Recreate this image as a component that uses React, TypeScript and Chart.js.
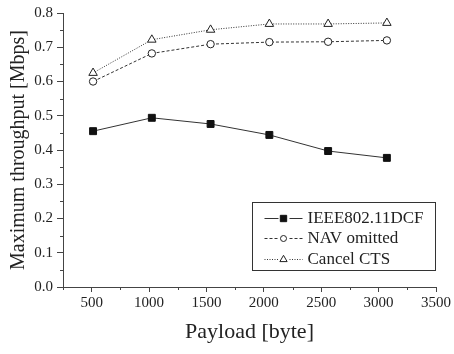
import React, { useEffect, useRef } from 'react';
import { Chart, registerables } from 'chart.js';
Chart.register(...registerables);

const payloads = [512, 1024, 1536, 2048, 2560, 3072];
const dcfValues = [0.455, 0.494, 0.476, 0.444, 0.397, 0.377];
const navValues = [0.600, 0.682, 0.709, 0.715, 0.716, 0.720];
const ctsValues = [0.625, 0.722, 0.751, 0.768, 0.768, 0.771];
const seriesLabels = ['IEEE802.11DCF', 'NAV omitted', 'Cancel CTS'];
const xTickValues = [500, 1000, 1500, 2000, 2500, 3000, 3500];
const xMinorValues = [250, 750, 1250, 1750, 2250, 2750, 3250];
const yTickValues = [0, 0.1, 0.2, 0.3, 0.4, 0.5, 0.6, 0.7, 0.8];
const yMinorValues = [0.05, 0.15, 0.25, 0.35, 0.45, 0.55, 0.65, 0.75];
const xTitle = 'Payload [byte]';
const yTitle = 'Maximum throughput [Mbps]';

const FONT = "'Liberation Serif'";
const AXIS = '#444';
const TEXT = '#222';
const LINE = '#333';

const styles = [
  { dash: [] as number[], point: 'rect', radius: 4.9, fill: '#111', stroke: '#111' },
  { dash: [3, 2], point: 'circle', radius: 3.7, fill: '#fff', stroke: '#222' },
  { dash: [1, 1.5], point: 'triangle', radius: 4.9, fill: '#fff', stroke: '#222' },
];

function drawMarker(ctx: CanvasRenderingContext2D, kind: string, x: number, y: number, r: number, fill: string, stroke: string) {
  ctx.save();
  ctx.setLineDash([]);
  ctx.fillStyle = fill;
  ctx.strokeStyle = stroke;
  ctx.lineWidth = 1;
  ctx.beginPath();
  if (kind === 'rect') {
    const s = r * Math.SQRT1_2;
    ctx.rect(x - s, y - s, 2 * s, 2 * s);
  } else if (kind === 'circle') {
    ctx.arc(x, y, r, 0, Math.PI * 2);
  } else {
    ctx.moveTo(x, y - r);
    ctx.lineTo(x + r * 0.866, y + r * 0.5);
    ctx.lineTo(x - r * 0.866, y + r * 0.5);
    ctx.closePath();
  }
  ctx.fill();
  ctx.stroke();
  ctx.restore();
}

const extrasPlugin = {
  id: 'extras',
  afterDraw(chart: any) {
    const ctx: CanvasRenderingContext2D = chart.ctx;
    const xs = chart.scales.x;
    const ys = chart.scales.y;
    const area = chart.chartArea;
    ctx.save();
    ctx.strokeStyle = AXIS;
    ctx.lineWidth = 1;
    ctx.beginPath();
    xMinorValues.forEach((v) => {
      const px = Math.round(xs.getPixelForValue(v)) + 0.5;
      ctx.moveTo(px, area.bottom);
      ctx.lineTo(px, area.bottom + 3);
    });
    yMinorValues.forEach((v) => {
      const py = Math.round(ys.getPixelForValue(v)) + 0.5;
      ctx.moveTo(area.left, py);
      ctx.lineTo(area.left - 3, py);
    });
    ctx.stroke();

    // legend
    const bx = area.right - 183.5;
    const by = area.bottom - 84.5;
    const bw = 183;
    const bh = 68;
    ctx.strokeStyle = '#333';
    ctx.strokeRect(bx, by, bw, bh);
    ctx.font = '17px ' + FONT;
    ctx.fillStyle = TEXT;
    ctx.textBaseline = 'middle';
    chart.data.datasets.forEach((ds: any, i: number) => {
      const st = styles[i];
      const cy = by + 15 + i * 20.5;
      const cx = bx + 31;
      ctx.save();
      ctx.strokeStyle = LINE;
      ctx.setLineDash(st.dash);
      ctx.beginPath();
      ctx.moveTo(bx + 12, Math.round(cy) + 0.5);
      ctx.lineTo(cx - 5, Math.round(cy) + 0.5);
      ctx.moveTo(cx + 6, Math.round(cy) + 0.5);
      ctx.lineTo(bx + 50, Math.round(cy) + 0.5);
      ctx.stroke();
      ctx.restore();
      drawMarker(ctx, st.point, cx, Math.round(cy) + 0.5, st.point === 'rect' ? 4.5 : st.radius - 0.7, st.fill, st.stroke);
      ctx.fillText(ds.label, bx + 55, cy + 1);
    });
    ctx.restore();
  },
};

export default function App() {
  const ref = useRef<HTMLCanvasElement>(null);
  useEffect(() => {
    if (!ref.current) return;
    let chart: Chart | null = null;
    let cancelled = false;
    const build = () => {
      if (cancelled || !ref.current) return;
      const series = [dcfValues, navValues, ctsValues];
      chart = new Chart(ref.current, {
        type: 'line',
        data: {
          datasets: series.map((vals, i) => ({
            label: seriesLabels[i],
            data: payloads.map((p, j) => ({ x: p, y: vals[j] })),
            borderColor: LINE,
            borderWidth: 1,
            borderDash: styles[i].dash,
            pointStyle: styles[i].point as any,
            pointRadius: styles[i].radius,
            pointBackgroundColor: styles[i].fill,
            pointBorderColor: styles[i].stroke,
            pointBorderWidth: 1,
            tension: 0,
            fill: false,
          })),
        },
        options: {
          responsive: false,
          animation: false,
          layout: { padding: { left: 0, top: 13, right: 18, bottom: 0 } },
          plugins: { legend: { display: false }, tooltip: { enabled: false } },
          scales: {
            x: {
              type: 'linear',
              min: 250,
              max: 3500,
              afterBuildTicks: (s: any) => {
                s.ticks = xTickValues.map((v) => ({ value: v }));
              },
              afterFit: (s: any) => {
                s.height = 67;
              },
              ticks: {
                font: { family: FONT, size: 15 },
                color: TEXT,
                padding: 2,
                maxRotation: 0,
                autoSkip: false,
                callback: (v: any) => String(v),
              },
              grid: { drawOnChartArea: false, tickLength: 5, color: AXIS },
              border: { color: AXIS, width: 1 },
              title: {
                display: true,
                text: xTitle,
                font: { family: FONT, size: 22 },
                color: TEXT,
                padding: { top: 9, bottom: 9 },
              },
            },
            y: {
              min: 0,
              max: 0.8,
              afterBuildTicks: (s: any) => {
                s.ticks = yTickValues.map((v) => ({ value: v }));
              },
              afterFit: (s: any) => {
                s.width = 63;
              },
              ticks: {
                font: { family: FONT, size: 15 },
                color: TEXT,
                padding: 4,
                callback: (v: any) => Number(v).toFixed(1),
              },
              grid: { drawOnChartArea: false, tickLength: 6, color: AXIS },
              border: { color: AXIS, width: 1 },
              title: {
                display: true,
                text: yTitle,
                font: { family: FONT, size: 20 },
                color: TEXT,
                padding: { top: 7, bottom: 4 },
              },
            },
          },
        },
        plugins: [extrasPlugin],
      });
    };
    const fonts: any = (document as any).fonts;
    if (fonts && fonts.load) {
      Promise.all([fonts.load("15px 'Liberation Serif'"), fonts.load("22px 'Liberation Serif'")])
        .then(build, build);
    } else {
      build();
    }
    return () => {
      cancelled = true;
      if (chart) chart.destroy();
    };
  }, []);
  return (
    <div style={{ position: 'absolute', left: 0, top: 0, width: 454, height: 354, background: '#fff' }}>
      <span style={{ fontFamily: "'Liberation Serif'", position: 'absolute', left: -9999, top: 0 }}>.</span>
      <canvas ref={ref} width={454} height={354} style={{ display: 'block' }} />
    </div>
  );
}
